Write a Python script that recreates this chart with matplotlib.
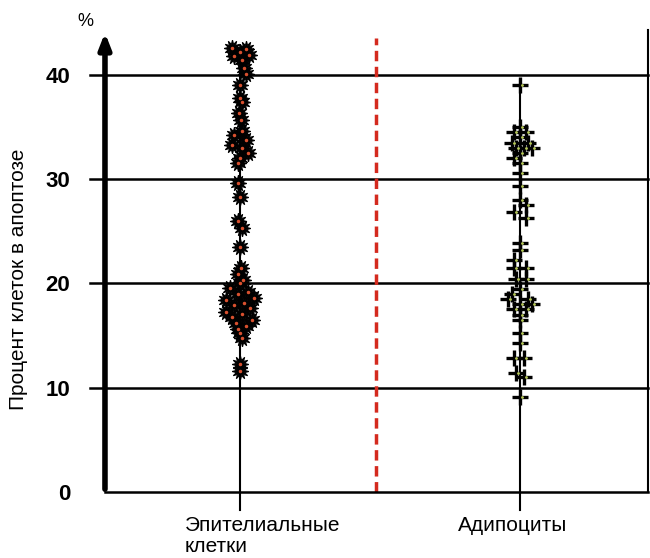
import numpy as np
import matplotlib.pyplot as plt

plt.rcParams['font.family'] = ['Liberation Sans', 'DejaVu Sans']

categories = ['Эпителиальные\nклетки', 'Адипоциты']
cat_pos = [1.0, 3.07]

# epithelial cells: percent apoptosis and small horizontal spread (px)
epi_vals = [42.6, 42.5, 42.2, 41.8, 41.9, 41.4, 40.6, 40.1, 39.0, 37.8, 37.4,
            36.3, 35.7, 34.6, 34.2, 33.7, 33.3, 33.0, 32.5, 32.0, 31.5,
            29.6, 28.3, 26.0, 25.3, 23.5, 21.5, 20.9, 20.3, 20.0,
            19.6, 19.2, 19.0, 18.6, 18.4, 18.1, 17.9, 17.6, 17.3, 17.1,
            16.8, 16.5, 16.2, 15.9, 15.6, 15.2, 14.8, 12.3, 11.6]
epi_off = [-8, 6, 0, -6, 9, 2, 4, 6, 0, 0, 2,
           -1, 1, 2, -6, 6, -8, 2, 8, 0, -2,
           -2, 0, -2, 2, 0, 1, -2, 3, 0,
           -10, 8, -2, 14, -14, 4, -6, 10, -14, 2,
           -8, 12, -4, 6, -2, 0, 2, 0, 0]

# adipocytes
adi_vals = [39.0, 35.0, 34.5, 34.5, 34.0, 33.5, 33.5, 33.0, 33.0, 33.0, 32.5,
            32.0, 31.5, 30.6, 29.3, 28.0, 27.5, 26.8, 26.3, 23.9, 23.2, 22.2,
            21.5, 21.5, 20.4, 20.4, 19.5, 19.0, 18.5, 18.5, 18.0, 18.0,
            17.5, 17.5, 17.0, 16.5, 15.2, 14.3, 12.8, 12.8, 11.4, 11.0, 9.1]
adi_off = [0, 0, -6, 6, 0, -8, 8, -4, 4, 12, 0,
           -6, 0, 0, 0, 0, 6, -6, 6, 0, 0, -6,
           -6, 6, -4, 6, 0, -8, -12, 8, 0, 12,
           -6, 6, 0, 0, 0, 0, -6, 4, -4, 4, 0]

yticks = [0, 10, 20, 30, 40]

px = 1.0 / 135  # data units per pixel in x

fig = plt.figure(figsize=(6.5, 5.58), dpi=100)
ax = fig.add_axes([0.1615, 0.1183, 0.836, 0.8226])
ax.set_xlim(0, 4.02)
ax.set_ylim(0, 44)

# horizontal grid lines
for v in yticks[1:]:
    ax.plot([-0.11, 4.02], [v, v], color='black', lw=1.8, clip_on=False, zorder=1)

# vertical category lines
ax.plot([cat_pos[0], cat_pos[0]], [-1.7, 42.5], color='black', lw=1.5, clip_on=False, zorder=1)
ax.plot([cat_pos[1], cat_pos[1]], [-1.7, 39.5], color='black', lw=1.5, clip_on=False, zorder=1)

# red dashed divider
ax.plot([2.005, 2.005], [0, 43.5], color='#d42a1e', lw=2.5, ls=(0, (3, 1.6)), zorder=1)

# points
ex = cat_pos[0] + np.array(epi_off) * px
ax.plot(ex, epi_vals, ls='none', marker=(12, 1, 0), ms=12, mfc='black', mec='black',
        mew=0.8, zorder=3)
ax.plot(ex, epi_vals, ls='none', marker='.', ms=3, color='#d8502f', zorder=4)

axx = cat_pos[1] + np.array(adi_off) * px
ax.plot(axx, adi_vals, ls='none', marker='+', ms=11, mec='black', mew=2.4, zorder=3)
ax.plot(axx + 2 * px, adi_vals, ls='none', marker='.', ms=2, color='#b7c95a', zorder=4)

for s in ['top', 'left']:
    ax.spines[s].set_visible(False)
ax.spines['bottom'].set_linewidth(1.8)
ax.spines['right'].set_linewidth(1.5)
ax.spines['right'].set_bounds(0, 44.3)

# y axis arrow
ax.annotate('', xy=(0, 44.3), xytext=(0, 0),
            arrowprops=dict(arrowstyle='-|>,head_width=0.35,head_length=0.9',
                            color='black', lw=4), annotation_clip=False)

ax.set_yticks(yticks)
ax.set_yticklabels([str(v) for v in yticks], fontsize=16, fontweight='bold')
ax.tick_params(axis='y', length=0, pad=25)
ax.set_xticks([])

ax.text(cat_pos[0] - 55 * px, -2.3, categories[0], fontsize=15, ha='left', va='top',
        linespacing=1.12)
ax.text(cat_pos[1] - 7 * px, -2.3, categories[1], fontsize=15, ha='center', va='top')

fig.text(0.028, 0.5, 'Процент клеток в апоптозе', rotation=90, fontsize=15,
         ha='center', va='center')
fig.text(0.132, 0.962, '%', fontsize=13, ha='center', va='center')

fig.savefig('out.png', dpi=100)
